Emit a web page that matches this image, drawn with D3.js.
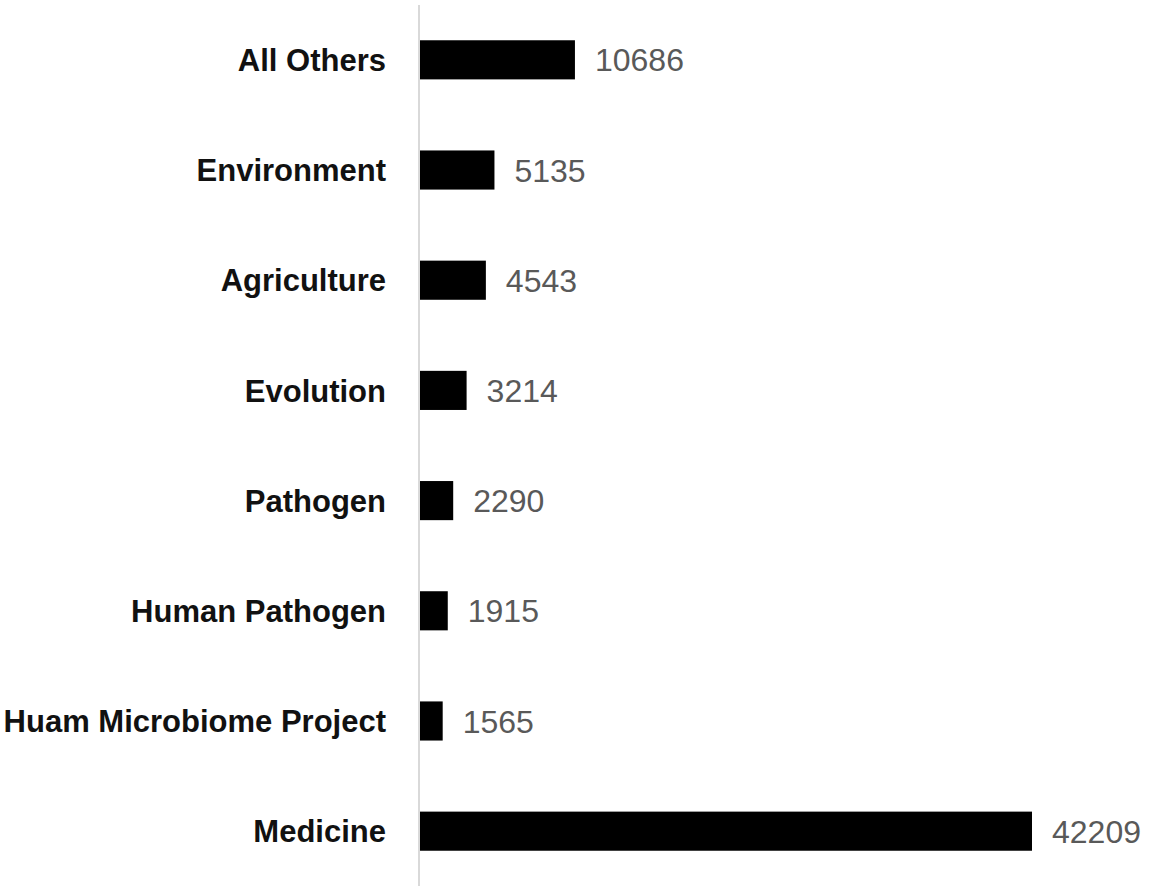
<!DOCTYPE html>
<html>
<head>
<meta charset="utf-8">
<script src="https://cdn.jsdelivr.net/npm/d3@7"></script>
<style>
	body{margin:0;background:#fff;}
	svg{display:block;}
	.axisy text{font-family:"Liberation Sans",Arial,sans-serif;font-weight:bold;font-size:31px;fill:#111;}
	.tag{font-family:"Liberation Sans",Arial,sans-serif;font-size:32px;fill:#595959;}
</style>
</head>
<body>
<svg id="chart" width="1150" height="892"></svg>
<script>
// categories top to bottom, and their counts
const categories = ["All Others","Environment","Agriculture","Evolution","Pathogen","Human Pathogen","Huam Microbiome Project","Medicine"];
const counts = [10686,5135,4543,3214,2290,1915,1565,42209];

const svgW = 1150, svgH = 892;
const mLeft = 419, mTop = 5, mBottom = 886;
const data = categories.map((c,i)=>({x:c,y:counts[i]}));

const svg = d3.select("#chart");
const y = d3.scaleBand().domain(categories).range([mTop,mBottom]).paddingInner(0.645).paddingOuter(0.32);
const x = d3.scaleLinear().domain([0,42209]).range([mLeft+1,1032]);

// y axis: only the grey line, labels to the left
const axisY = d3.axisLeft(y).tickSize(0).tickPadding(33);
const gy = svg.append("g")
	.attr("class","axisy")
	.attr("transform",`translate(${mLeft},0)`)
	.call(axisY);
gy.select(".domain").remove();
gy.append("line")
	.attr("x1",0).attr("x2",0)
	.attr("y1",mTop).attr("y2",mBottom)
	.attr("stroke","#d9d9d9")
	.attr("stroke-width",2);
gy.selectAll(".tick text").attr("dy","0.36em");

// bars
svg.selectAll("rect.bar")
	.data(data)
	.enter()
	.append("rect")
	.attr("class","bar")
	.attr("x",x(0))
	.attr("y",d=>y(d.x))
	.attr("width",d=>x(d.y)-x(0))
	.attr("height",y.bandwidth())
	.attr("fill","#000");

// value labels
svg.append("g")
	.selectAll("text")
	.data(data)
	.enter()
	.append("text")
	.attr("class","tag")
	.attr("x",d=>x(d.y))
	.attr("dx",20)
	.attr("y",d=>y(d.x)+y.bandwidth()/2)
	.attr("dy","0.36em")
	.text(d=>d.y);
</script>
</body>
</html>
